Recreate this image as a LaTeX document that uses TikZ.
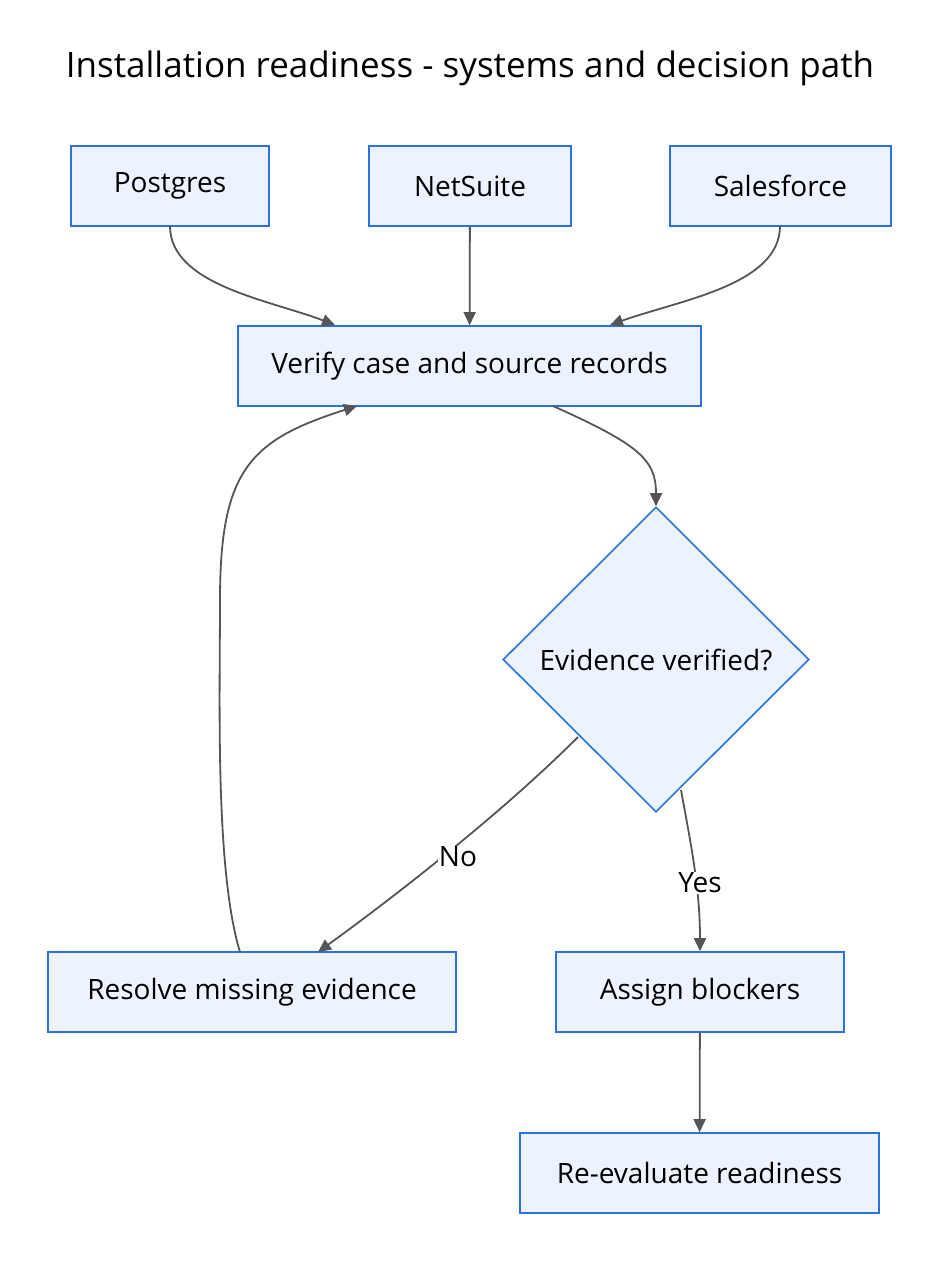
\documentclass[tikz,border=0pt]{standalone}
\usepackage{fontspec}
\setmainfont{Open Sans}
\usetikzlibrary{arrows.meta,shapes.geometric}
\definecolor{bfill}{HTML}{ECF3FE}
\definecolor{bdraw}{HTML}{2A72DE}
\definecolor{edge}{HTML}{555555}
\tikzset{
 box/.style={draw=bdraw,fill=bfill,line width=1.6pt,inner sep=0pt,font=\fontsize{28}{32}\selectfont},
 conn/.style={draw=edge,line width=1.8pt,-{Triangle[length=13pt,width=12pt]}},
 lbl/.style={fill=white,inner sep=1pt,font=\fontsize{28}{32}\selectfont}
}
\begin{document}
\begin{tikzpicture}[x=1pt,y=-1pt]
\useasboundingbox (0,0) rectangle (940,1262);
\node[font=\fontsize{35}{40}\selectfont] (title) at (470,68) {Installation readiness - systems and decision path};
\node[box,minimum width=198pt,minimum height=80pt] (pg) at (170,186) {Postgres};
\node[box,minimum width=202pt,minimum height=80pt] (ns) at (470,186) {NetSuite};
\node[box,minimum width=221pt,minimum height=80pt] (sf) at (780.5,186) {Salesforce};
\node[box,minimum width=463pt,minimum height=80pt] (ver) at (469.5,366) {Verify case and source records};
\node[box,diamond,minimum width=306pt,minimum height=305pt] (dec) at (656,659.5) {Evidence verified?};
\node[box,minimum width=408pt,minimum height=80pt] (res) at (252,992) {Resolve missing evidence};
\node[box,minimum width=288pt,minimum height=80pt] (asg) at (700,992) {Assign blockers};
\node[box,minimum width=359pt,minimum height=80pt] (ree) at (699.5,1173) {Re-evaluate readiness};
\coordinate (pgS) at (170,226); \coordinate (verA) at (335,325);
\coordinate (sfS) at (780,226); \coordinate (verC) at (610,325);
\draw[conn] (pgS) .. controls (170,285) and (270,300) .. (verA);
\draw[conn] (ns) -- (ver);
\draw[conn] (sfS) .. controls (780,285) and (680,300) .. (verC);
\coordinate (verD) at (553,406);
\draw[conn] (verD) .. controls (640,445) and (656,460) .. (dec.north);
\coordinate (dL) at (578,737); \coordinate (resT) at (318,952);
\draw[conn] (dL) .. controls (500,815) and (390,900) .. (resT);
\node[lbl] (no) at (458,857) {No};
\coordinate (dR) at (681,790);
\draw[conn] (dR) .. controls (692,850) and (700,890) .. (asg.north);
\node[lbl] (yes) at (700,883) {Yes};
\coordinate (resU) at (240,952); \coordinate (verB) at (357,406);
\draw[conn] (resU) .. controls (215,870) and (220,700) .. (220,600) .. controls (220,470) and (250,440) .. (verB);
\draw[conn] (asg) -- (ree);
\end{tikzpicture}
\end{document}
